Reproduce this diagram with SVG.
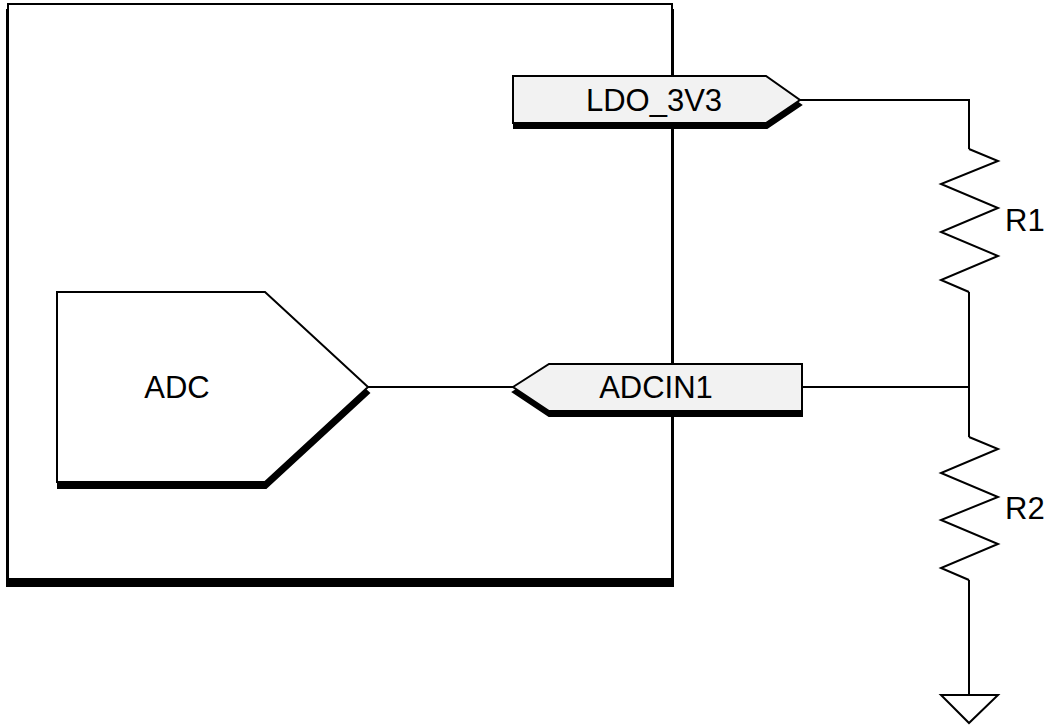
<svg xmlns="http://www.w3.org/2000/svg" width="1046" height="725" viewBox="0 0 1046 725">
<style>
.ln{fill:none;stroke:#000;stroke-width:2;stroke-linejoin:miter}
.sh{fill:#000;stroke:#000;stroke-width:2}
.lbl{fill:#f2f2f2;stroke:#000;stroke-width:2}
.wht{fill:#fff;stroke:#000;stroke-width:2}
.t{font-family:"Liberation Sans",Arial,sans-serif;font-size:31px;fill:#000}
</style>
<rect width="1046" height="725" fill="#fff"/>
<g id="chip">
<rect x="7" y="10" width="666" height="576" class="sh"/>
<rect x="8" y="4" width="664" height="575" class="wht"/>
</g>
<g id="connectors">
<path class="ln" d="M368,387 H513"/>
<path class="ln" d="M802,387 H969"/>
<path class="ln" d="M800,100 H969 V149"/>
<path class="ln" d="M969,292 V437"/>
<path class="ln" d="M969,580 V695"/>
</g>
<g id="adc">
<polygon class="sh" points="58,298 266,298 369,393 266,488 58,488"/>
<polygon class="wht" points="57,292 265,292 368,387 265,482 57,482"/>
<text class="t" x="177" y="398" text-anchor="middle">ADC</text>
</g>
<g id="ldo_3v3">
<polygon class="sh" points="514,81 767,81 801,105 767,128 514,128"/>
<polygon class="lbl" points="513,76 766,76 800,100 766,123 513,123"/>
<text class="t" x="654" y="111" text-anchor="middle">LDO_3V3</text>
</g>
<g id="adcin1">
<polygon class="sh" points="513,392 549,369 802,369 802,416 549,416"/>
<polygon class="lbl" points="513,387 549,364 802,364 802,411 549,411"/>
<text class="t" x="656" y="398" text-anchor="middle">ADCIN1</text>
</g>
<g id="r1">
<polyline class="ln" points="969,149 998,161 941,184 998,208 941,232 998,256 941,280 969,292"/>
<text class="t" x="1005" y="231">R1</text>
</g>
<g id="r2">
<polyline class="ln" points="969,437 998,449 941,473 998,497 941,520 998,544 941,568 969,580"/>
<text class="t" x="1005" y="519">R2</text>
</g>
<g id="gnd">
<polygon class="wht" points="941,695 998,695 969,723"/>
</g>
</svg>
